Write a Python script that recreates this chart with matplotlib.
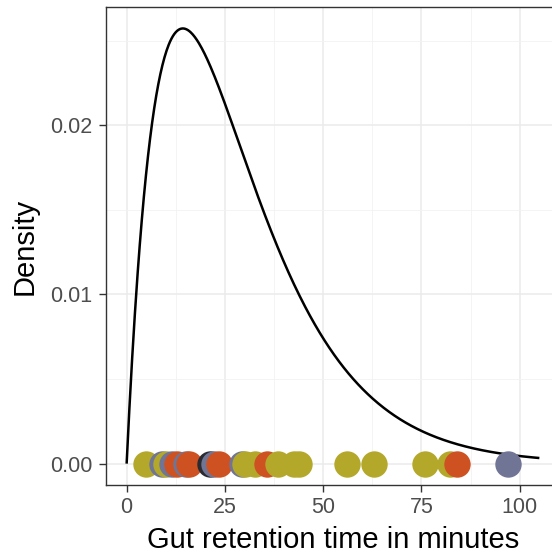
import numpy as np
import matplotlib
matplotlib.use("Agg")
import matplotlib.pyplot as plt
from matplotlib.ticker import MultipleLocator
from math import gamma as gfun

# Observed gut retention times (minutes) and their group colours
times = [5.0, 9.0, 10.0, 11.6, 12.8, 15.1, 15.9, 21.2, 22.1, 23.4, 29.3, 30.2,
         32.6, 35.7, 38.6, 42.5, 43.8, 56.0, 62.9, 75.9, 82.2, 84.0, 97.0]
groups = ["olive", "slate", "olive", "slate", "orange", "slate", "orange", "dark",
          "slate", "orange", "slate", "olive", "olive", "orange", "olive", "olive",
          "olive", "olive", "olive", "olive", "olive", "orange", "slate"]
palette = {"olive": "#B3A82A", "slate": "#707595", "orange": "#CE5122", "dark": "#2A2A30"}

# Fitted gamma density parameters
gamma_shape = 2.0
gamma_scale = 14.3
x_max = 105.0

x_ticks = [0, 25, 50, 75, 100]
y_ticks = [0.00, 0.01, 0.02]
y_tick_labels = ["0.00", "0.01", "0.02"]

fig = plt.figure(figsize=(5.52, 5.56), dpi=100)
W, H = 552, 556
left, right, top, bottom = 106, 560, 6.7, 485.4
ax = fig.add_axes([left / W, 1 - bottom / H, (right - left) / W, (bottom - top) / H])

xs = np.linspace(0, x_max, 600)
dens = xs ** (gamma_shape - 1) * np.exp(-xs / gamma_scale) / (gfun(gamma_shape) * gamma_scale ** gamma_shape)
peak = dens.max()

ax.plot(xs, dens, color="black", lw=1.8, zorder=3, solid_capstyle="butt")
for t, g in zip(times, groups):
    ax.plot([t], [0], "o", ms=19.0, mew=0, color=palette[g], zorder=4)

ax.set_xlim(-0.05 * x_max, 1.05 * x_max)
ax.set_ylim(-0.05 * peak, 1.05 * peak)

ax.set_xticks(x_ticks)
ax.set_xticklabels([str(v) for v in x_ticks])
ax.set_yticks(y_ticks)
ax.set_yticklabels(y_tick_labels)
ax.xaxis.set_minor_locator(MultipleLocator(12.5))
ax.yaxis.set_minor_locator(MultipleLocator(0.005))

ax.grid(which="major", color="#EBEBEB", lw=1.1, zorder=0)
ax.grid(which="minor", color="#F2F2F2", lw=0.6, zorder=0)
ax.set_axisbelow(True)
ax.tick_params(which="minor", length=0)
ax.tick_params(which="major", length=5, width=1.0, color="#333333",
               labelcolor="#4D4D4D", labelsize=15.5)
ax.tick_params(axis="y", pad=5)
ax.tick_params(axis="x", pad=3)
for s in ax.spines.values():
    s.set_color("#333333")
    s.set_linewidth(1.0)

font = "Liberation Sans"
for lab in ax.get_xticklabels() + ax.get_yticklabels():
    lab.set_family(font)
ax.set_xlabel("Gut retention time in minutes", fontsize=21, family=font, labelpad=6)
ax.set_ylabel("Density", fontsize=21, family=font, labelpad=8)

fig.savefig("out.png", dpi=100)
